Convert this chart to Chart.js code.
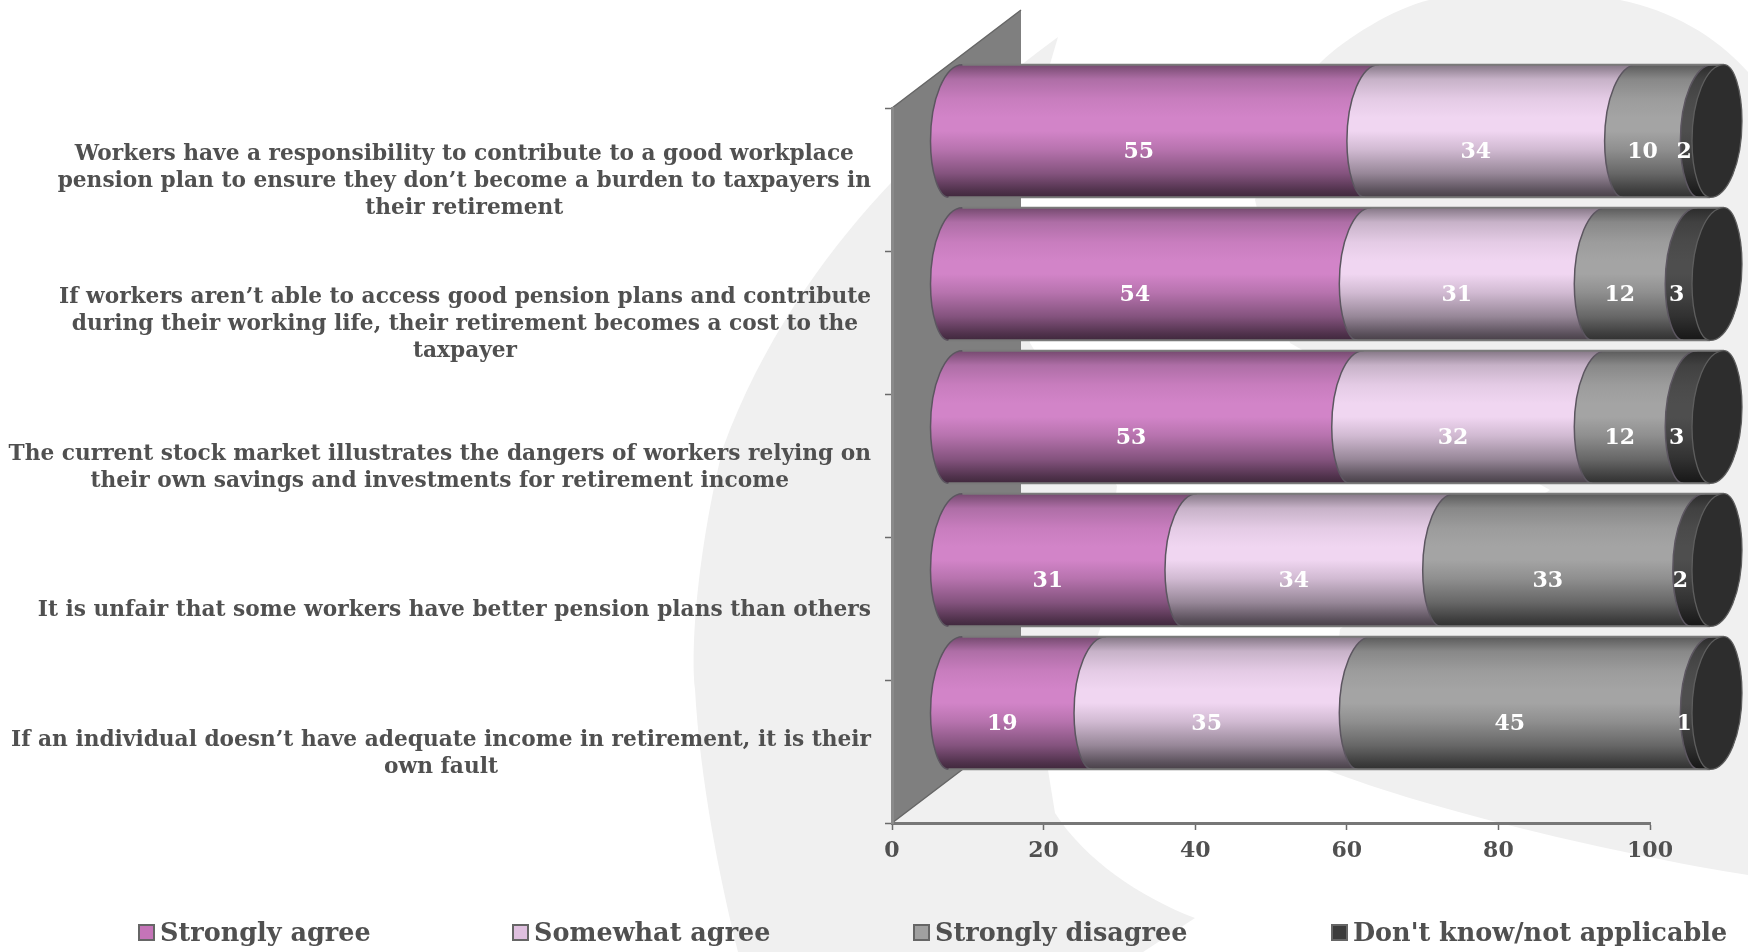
<!DOCTYPE html>
<html>
  <head>
    <meta charset="utf-8" />
    <script src="https://cdn.jsdelivr.net/npm/chart.js"></script>
    <style>
      html, body { margin: 0; padding: 0; background: #fff; }
      canvas { display: block; }
    </style>
  </head>

  <body>
    <canvas id="myChart" width="1748" height="952"></canvas>
    <script>
      const categories = [
        ["Workers have a responsibility to contribute to a good workplace", "pension plan to ensure they don’t become a burden to taxpayers in", "their retirement"],
        ["If workers aren’t able to access good pension plans and contribute", "during their working life, their retirement becomes a cost to the", "taxpayer"],
        ["The current stock market illustrates the dangers of workers relying on", "their own savings and investments for retirement income"],
        ["It is unfair that some workers have better pension plans than others"],
        ["If an individual doesn’t have adequate income in retirement, it is their", "own fault"]
      ]
      const seriesNames = ["Strongly agree", "Somewhat agree", "Strongly disagree", "Don't know/not applicable"]
      const stronglyAgree = [55, 54, 53, 31, 19]
      const somewhatAgree = [34, 31, 32, 34, 35]
      const stronglyDisagree = [10, 12, 12, 33, 45]
      const dontKnow = [2, 3, 3, 2, 1]
      const seriesValues = [stronglyAgree, somewhatAgree, stronglyDisagree, dontKnow]

      // mid colour of each tube, and the flat colour of its legend box
      const tubeColors = [[210, 132, 200], [240, 214, 241], [164, 164, 164], [78, 78, 78]]
      const legendColors = ["#c574b8", "#dfc0df", "#a0a0a0", "#3c3c3c"]
      const textColor = "#505050"
      const fontFamily = "'DejaVu Serif', serif"

      // fake 3d: the tubes sit this far up and right of the axis position
      const DX = 38
      const DY = -48.5
      const LABEL_DY = -27
      const WALL_W = 129
      const WALL_H = 98
      // tube end shape, measured from the leftmost point of the end
      const END_TOP = 32
      const END_BOTTOM = 18
      const END_MID = 10
      const END_WIDTH = 50
      const K = 0.55

      const shades = [[0, 0.55], [0.11, 0.83], [0.26, 0.95], [0.4, 1], [0.5, 1], [0.64, 0.87], [0.82, 0.63], [0.95, 0.38], [1, 0.3]]

      function tubeGradient(ctx, top, bottom, rgb) {
        const g = ctx.createLinearGradient(0, top, 0, bottom)
        for (const [at, k] of shades) {
          g.addColorStop(at, `rgb(${rgb.map((c) => Math.round(c * k)).join(",")})`)
        }
        return g
      }

      // curve up the left side of a tube end, bottom to top
      function leftSide(ctx, x, cy, h) {
        const top = cy - h
        const bottom = cy + h
        const midY = cy + END_MID
        ctx.bezierCurveTo(x + END_BOTTOM * (1 - K), bottom, x, midY + (bottom - midY) * K, x, midY)
        ctx.bezierCurveTo(x, midY - (midY - top) * K, x + END_TOP * (1 - K), top, x + END_TOP, top)
      }

      // curve down the right side of a tube end, top to bottom
      function rightSide(ctx, x, cy, h) {
        const top = cy - h
        const bottom = cy + h
        const midY = cy - END_MID
        const r = x + END_WIDTH
        ctx.bezierCurveTo(r - (r - x - END_TOP) * (1 - K), top, r, midY - (midY - top) * K, r, midY)
        ctx.bezierCurveTo(r, midY + (bottom - midY) * K, r - (r - x - END_BOTTOM) * (1 - K), bottom, x + END_BOTTOM, bottom)
      }

      const backdrop = {
        id: "backdrop",
        beforeDraw(chart) {
          const ctx = chart.ctx
          const a = chart.chartArea
          ctx.save()
          ctx.fillStyle = "#fff"
          ctx.fillRect(0, 0, chart.width, chart.height)

          // pale swooshes behind the chart
          ctx.fillStyle = "#f0f0f0"
          ctx.beginPath()
          ctx.moveTo(1058, 37)
          ctx.bezierCurveTo(960, 110, 800, 240, 723, 448)
          ctx.bezierCurveTo(700, 540, 690, 640, 695, 689)
          ctx.bezierCurveTo(700, 780, 720, 880, 738, 952)
          ctx.lineTo(1143, 952)
          ctx.lineTo(1195, 918)
          ctx.bezierCurveTo(1140, 897, 1085, 860, 1055, 813)
          ctx.lineTo(1048, 770)
          ctx.lineTo(1100, 629)
          ctx.lineTo(1117, 486)
          ctx.lineTo(1030, 343)
          ctx.lineTo(1010, 200)
          ctx.closePath()
          ctx.fill()

          ctx.beginPath()
          ctx.moveTo(1255, 200)
          ctx.bezierCurveTo(1275, 140, 1300, 90, 1320, 63)
          ctx.bezierCurveTo(1345, 38, 1395, 8, 1429, 0)
          ctx.lineTo(1620, 0)
          ctx.bezierCurveTo(1670, 10, 1715, 35, 1748, 72)
          ctx.lineTo(1748, 875)
          ctx.bezierCurveTo(1620, 855, 1430, 810, 1327, 770)
          ctx.lineTo(1340, 629)
          ctx.lineTo(1550, 490)
          ctx.lineTo(1290, 343)
          ctx.closePath()
          ctx.fill()

          // side wall of the 3d box
          ctx.fillStyle = "#7f7f7f"
          ctx.strokeStyle = "#666"
          ctx.lineWidth = 1.5
          ctx.beginPath()
          ctx.moveTo(a.left, a.top)
          ctx.lineTo(a.left + WALL_W, a.top - WALL_H)
          ctx.lineTo(a.left + WALL_W, a.bottom - WALL_H)
          ctx.lineTo(a.left, a.bottom)
          ctx.closePath()
          ctx.fill()
          ctx.beginPath()
          ctx.moveTo(a.left, a.top)
          ctx.lineTo(a.left + WALL_W, a.top - WALL_H)
          ctx.moveTo(a.left + WALL_W, a.bottom - WALL_H)
          ctx.lineTo(a.left, a.bottom)
          ctx.stroke()
          ctx.restore()
        }
      }

      const tubes = {
        id: "tubes",
        afterDatasetsDraw(chart) {
          const ctx = chart.ctx
          const a = chart.chartArea
          const capX = a.right + DX + 4
          ctx.save()
          categories.forEach(function (_, row) {
            let cy = 0
            let h = 0
            chart.data.datasets.forEach(function (ds, d) {
              const el = chart.getDatasetMeta(d).data[row]
              h = el.height / 2
              cy = el.y + DY
              const x0 = Math.min(el.base, a.right) + DX
              const isLast = d === chart.data.datasets.length - 1
              const x1 = isLast ? capX : Math.min(el.x, a.right) + DX

              ctx.beginPath()
              ctx.moveTo(x0 + END_TOP, cy - h)
              ctx.lineTo(x1 + END_TOP, cy - h)
              rightSide(ctx, x1, cy, h)
              ctx.lineTo(x0 + END_BOTTOM, cy + h)
              leftSide(ctx, x0, cy, h)
              ctx.closePath()
              ctx.fillStyle = tubeGradient(ctx, cy - h, cy + h, tubeColors[d])
              ctx.fill()

              // seam on the left side of the segment
              ctx.beginPath()
              ctx.moveTo(x0 + END_BOTTOM, cy + h)
              leftSide(ctx, x0, cy, h)
              ctx.strokeStyle = "#5c5660"
              ctx.lineWidth = 1.5
              ctx.stroke()
            })

            // outline along the tube, then the flat end
            const startX = chart.getDatasetMeta(0).data[row].base + DX
            ctx.strokeStyle = "#7a7a7a"
            ctx.lineWidth = 2
            ctx.beginPath()
            ctx.moveTo(startX + END_TOP, cy - h)
            ctx.lineTo(capX + END_TOP, cy - h)
            ctx.moveTo(startX + END_BOTTOM, cy + h)
            ctx.lineTo(capX + END_BOTTOM, cy + h)
            ctx.stroke()

            ctx.beginPath()
            ctx.moveTo(capX + END_TOP, cy - h)
            rightSide(ctx, capX, cy, h)
            leftSide(ctx, capX, cy, h)
            ctx.closePath()
            ctx.fillStyle = "#2d2d2d"
            ctx.fill()
            ctx.strokeStyle = "#5e5e5e"
            ctx.lineWidth = 1.3
            ctx.stroke()
          })

          // value labels
          ctx.fillStyle = "#fff"
          ctx.font = `bold 22px ${fontFamily}`
          ctx.textAlign = "center"
          ctx.textBaseline = "middle"
          chart.data.datasets.forEach(function (ds, d) {
            chart.getDatasetMeta(d).data.forEach(function (el, row) {
              const mid = (Math.min(el.base, a.right) + Math.min(el.x, a.right)) / 2
              ctx.fillText(String(seriesValues[d][row]), mid + DX, el.y + LABEL_DY)
            })
          })
          ctx.restore()
        }
      }

      const sideText = {
        id: "sideText",
        afterDraw(chart) {
          const ctx = chart.ctx
          const yScale = chart.scales.y
          ctx.save()
          ctx.fillStyle = textColor
          ctx.textBaseline = "middle"
          ctx.textAlign = "center"

          // category text, block flush right and its lines centred
          ctx.font = `bold 21.7px ${fontFamily}`
          categories.forEach(function (lines, i) {
            const y = yScale.getPixelForValue(i) + 2
            const widest = Math.max(...lines.map((t) => ctx.measureText(t).width))
            lines.forEach(function (t, n) {
              ctx.fillText(t, 871 - widest / 2, y + (n - (lines.length - 1) / 2) * 27)
            })
          })

          // legend
          const legendX = [139, 513, 914, 1332]
          ctx.font = `bold 25.5px ${fontFamily}`
          ctx.textAlign = "left"
          seriesNames.forEach(function (name, i) {
            ctx.fillStyle = legendColors[i]
            ctx.fillRect(legendX[i], 925, 15, 15)
            ctx.strokeStyle = "#666"
            ctx.lineWidth = 2
            ctx.strokeRect(legendX[i], 925, 15, 15)
            ctx.fillStyle = textColor
            ctx.fillText(name, legendX[i] + 21, 934)
          })
          ctx.restore()
        }
      }

      const datasets = seriesNames.map(function (name, i) {
        return {
          label: name,
          data: seriesValues[i],
          backgroundColor: "rgba(0,0,0,0)",
          borderWidth: 0,
          categoryPercentage: 1,
          barPercentage: 0.928
        }
      })

      const config = {
        type: "bar",
        data: {
          labels: categories,
          datasets: datasets
        },
        plugins: [backdrop, tubes, sideText],
        options: {
          indexAxis: "y",
          responsive: false,
          animation: false,
          layout: { padding: { top: 108, right: 98, left: 0, bottom: 0 } },
          plugins: {
            legend: { display: false },
            title: { display: false },
            tooltip: { enabled: false }
          },
          scales: {
            x: {
              stacked: true,
              min: 0,
              max: 100,
              afterFit(scale) {
                scale.height = 129
              },
              grid: { drawOnChartArea: false, tickLength: 7, tickColor: "#6a6a6a", tickWidth: 1.5 },
              border: { color: "#777", width: 3 },
              ticks: {
                stepSize: 20,
                padding: 8,
                maxRotation: 0,
                color: textColor,
                font: { family: fontFamily, size: 22, weight: "bold" }
              }
            },
            y: {
              stacked: true,
              afterFit(scale) {
                scale.width = 892
              },
              grid: { drawOnChartArea: false, tickLength: 7, tickColor: "#6a6a6a", tickWidth: 1.5 },
              border: { color: "#8a8a8a", width: 3 },
              ticks: { display: false }
            }
          }
        }
      }
      const myChart = new Chart(document.getElementById("myChart"), config)
    </script>
  </body>
</html>
